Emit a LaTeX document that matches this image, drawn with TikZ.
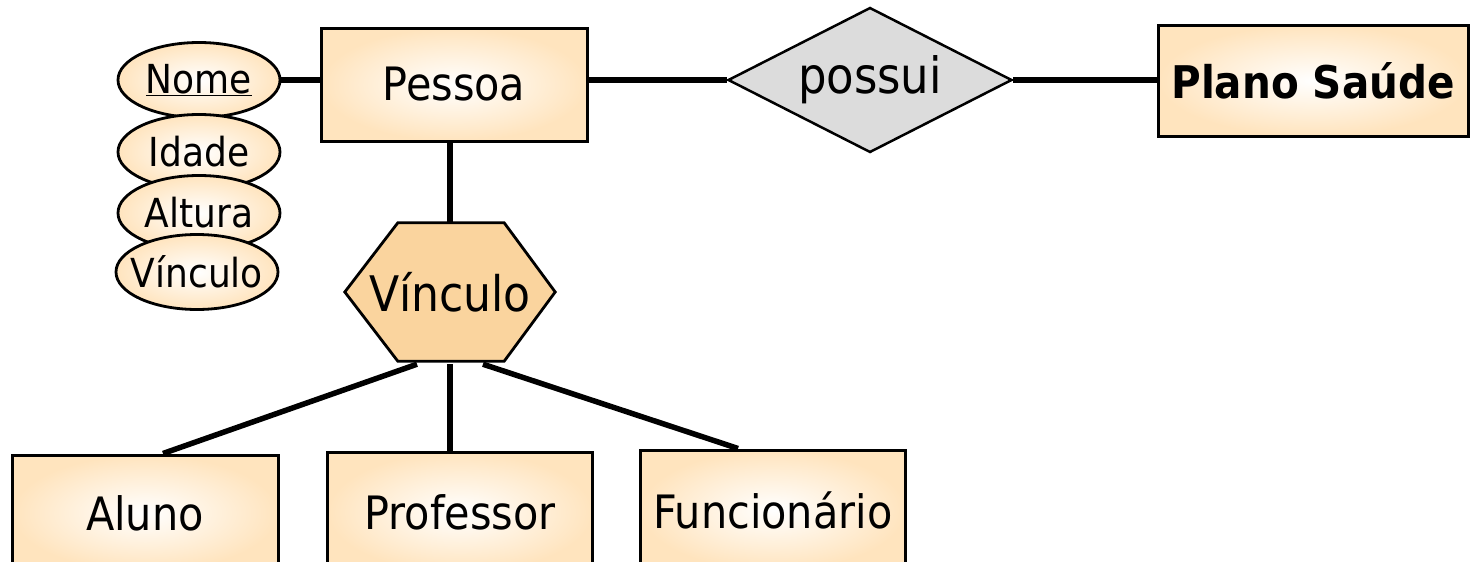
\documentclass[tikz,border=0pt]{standalone}
\usepackage{fontspec}
\setmainfont{DejaVu Sans Condensed}
\usepackage{tikz}
\usetikzlibrary{shapes.geometric,calc}
\definecolor{pele}{RGB}{255,228,190}
\definecolor{hexa}{RGB}{250,212,158}
\definecolor{cinza}{RGB}{220,220,220}

\begin{document}
\begin{tikzpicture}[x=1pt,y=1pt,
    entidade/.style={draw=black,line width=3pt,inner color=white,outer color=pele,font=\fontsize{46}{55}\selectfont},
    atributo/.style={ellipse,draw=black,line width=2.8pt,inner color=white,outer color=pele,minimum width=162pt,minimum height=75pt,inner xsep=-25pt,font=\fontsize{40}{48}\selectfont},
    liga/.style={line width=5.5pt}]
    \tikzstyle{every node}+=[inner sep=0pt]
    \useasboundingbox (0,0) rectangle (1470,-562);
    \node [entidade,minimum width=266pt,minimum height=113pt] (pessoa) at (454,-84.5) {Pessoa};
    \node [atributo] (nome) at (199,-80) {\underline{Nome}};
    \node [atributo] (idade) at (199,-152) {Idade};
    \node [atributo] (altura) at (199,-213) {Altura};
    \node [atributo] (vinculo) at (197,-272) {Vínculo};
    \node [diamond,draw=black,line width=2.5pt,fill=cinza,aspect=2,minimum width=284pt,minimum height=145pt,font=\fontsize{50}{60}\selectfont] (possui) at (870,-80) {possui};
    \node [entidade,minimum width=310pt,minimum height=111pt,font=\fontsize{45}{54}\selectfont\bfseries] (plano) at (1313,-80.5) {Plano Saúde};
    \node [minimum width=210pt,minimum height=138pt] (vinc) at (450,-292) {};
    \draw [line width=2.8pt,fill=hexa] (vinc.west) -- ($(vinc.north west)+(53,0)$) -- ($(vinc.north east)+(-51,0)$) -- (vinc.east) -- ($(vinc.south east)+(-51,0)$) -- ($(vinc.south west)+(53,0)$) -- cycle;
    \node [font=\fontsize{49}{59}\selectfont] at (vinc) {Vínculo};
    \node [entidade,minimum width=266pt,minimum height=116pt] (aluno) at (145,-513) {Aluno};
    \node [entidade,minimum width=265pt,minimum height=120pt] (prof) at (460,-512) {Professor};
    \node [entidade,minimum width=265pt,minimum height=120pt] (func) at (773,-510) {Funcionário};
    \draw [liga] (nome.east) -- (nome.east -| pessoa.west);
    \draw [liga] (pessoa.east |- possui) -- (possui.west);
    \draw [liga] (possui.east) -- (possui -| plano.west);
    \draw [liga] (vinc.north |- pessoa.south) -- (vinc.north);
    \draw [liga] ($(vinc.south)+(-33,-3)$) -- ($(aluno.north)+(18,0)$);
    \draw [liga] ($(vinc.south)+(0,-3)$) -- (vinc.south |- prof.north);
    \draw [liga] ($(vinc.south)+(33,-3)$) -- ($(func.north)+(-35,0)$);
\end{tikzpicture}
\end{document}
